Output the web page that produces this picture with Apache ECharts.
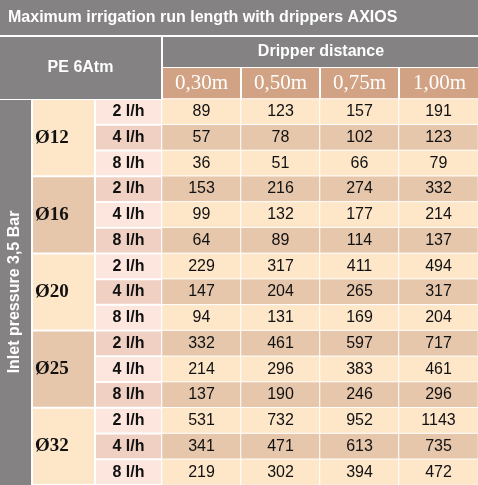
<!DOCTYPE html>
<html>
<head>
<meta charset="utf-8" />
<title>AXIOS run length</title>
<script src="https://cdn.jsdelivr.net/npm/echarts@6/dist/echarts.min.js"></script>
<style>
  html, body { margin: 0; padding: 0; background: #fff; }
  #chart { width: 478px; height: 485px; }
</style>
</head>
<body>
<div id="chart"></div>
<script>
var distances = ['0,30m', '0,50m', '0,75m', '1,00m'];
var diameters = ['Ø12', 'Ø16', 'Ø20', 'Ø25', 'Ø32'];
var flows = ['2 l/h', '4 l/h', '8 l/h'];
var values = [
  [89, 123, 157, 191], [57, 78, 102, 123], [36, 51, 66, 79],
  [153, 216, 274, 332], [99, 132, 177, 214], [64, 89, 114, 137],
  [229, 317, 411, 494], [147, 204, 265, 317], [94, 131, 169, 204],
  [332, 461, 597, 717], [214, 296, 383, 461], [137, 190, 246, 296],
  [531, 732, 952, 1143], [341, 471, 613, 735], [219, 302, 394, 472]
];

var gray = '#858283', tan = '#d1a283';
var light = '#fee6c9', dark = '#e6c7ab';
var flowLight = '#fde6dd', flowDark = '#f0d0c3';

var top0 = 99, bottom0 = 485, left0 = 162, right0 = 478;
var rowH = (bottom0 - top0) / values.length;
var colW = (right0 - left0) / distances.length;

var data = [];
values.forEach(function (row, r) {
  row.forEach(function (v, c) {
    data.push({ value: [c, r, v], itemStyle: { color: r % 2 ? dark : light } });
  });
});

var g = [];
function cell(x, y, w, h, fill, text, font, color) {
  g.push({ type: 'rect', shape: { x: x + 1, y: y + 1, width: w - 2, height: h - 2 }, style: { fill: fill }, silent: true });
  if (text) g.push({ type: 'text', x: x + w / 2, y: y + h / 2, style: { text: text, font: font, fill: color, align: 'center', verticalAlign: 'middle' }, silent: true });
}
cell(-1, -1, 480, 37, gray, 'Maximum irrigation run length with drippers AXIOS', 'bold 16px Liberation Sans', '#fff');
g[g.length - 1].x = 8; g[g.length - 1].style.align = 'left';
cell(-1, 36, left0 + 1, 64, gray, 'PE 6Atm', 'bold 16px Liberation Sans', '#fff');
cell(left0, 36, right0 - left0 + 2, 32, gray, 'Dripper distance', 'bold 16px Liberation Sans', '#fff');
distances.forEach(function (d, i) {
  cell(left0 + i * colW, 67, colW + (i === 3 ? 2 : 0), 33, tan, d, '21px Liberation Serif', '#fff');
});
cell(-1, top0, 33, bottom0 - top0 + 2, gray, '', '', '');
g.push({ type: 'text', x: 15, y: 292, rotation: Math.PI / 2, style: { text: 'Inlet pressure 3,5 Bar', font: 'bold 16px Liberation Sans', fill: '#fff', align: 'center', verticalAlign: 'middle' }, silent: true });
diameters.forEach(function (d, i) {
  cell(32, top0 + i * 3 * rowH, 63, 3 * rowH, i % 2 ? dark : light, d, 'bold 19px Liberation Serif', '#111');
  g[g.length - 1].x = 35; g[g.length - 1].style.align = 'left';
  flows.forEach(function (f, j) {
    var r = i * 3 + j;
    cell(95, top0 + r * rowH, 67, rowH, r % 2 ? flowDark : flowLight, f, 'bold 16px Liberation Sans', '#111');
  });
});

var chart = echarts.init(document.getElementById('chart'));
chart.setOption({
  animation: false,
  grid: { left: left0, top: top0, width: right0 - left0 + 1, height: bottom0 - top0 },
  xAxis: { type: 'category', data: distances, show: false },
  yAxis: { type: 'category', data: values.map(function (_, i) { return i; }), inverse: true, show: false },
  series: [{
    type: 'heatmap',
    data: data,
    itemStyle: { borderColor: '#fff', borderWidth: 1 },
    label: { show: true, formatter: function (p) { return p.value[2]; }, fontFamily: 'Liberation Sans', fontSize: 16, color: '#111' },
    emphasis: { disabled: true }
  }],
  graphic: g
});
</script>
</body>
</html>
